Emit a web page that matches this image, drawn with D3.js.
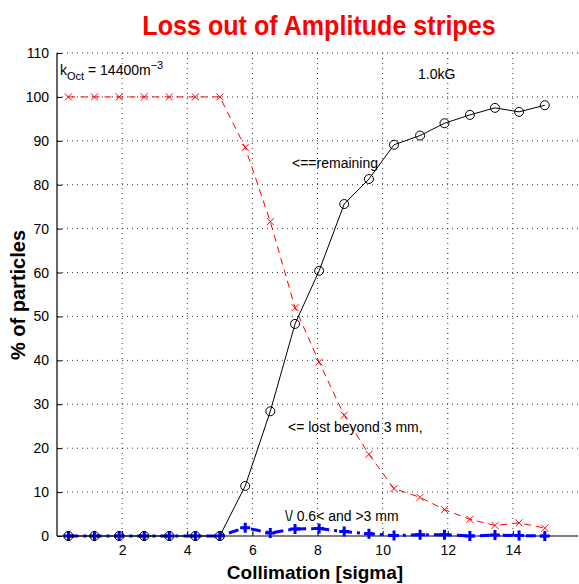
<!doctype html>
<html>
<head>
<meta charset="utf-8">
<script src="https://cdn.jsdelivr.net/npm/d3@7"></script>
<style>
  body { margin: 0; background: #fff; }
  text { font-family: "Liberation Sans", Arial, sans-serif; }
</style>
</head>
<body>
<svg id="chart" width="579" height="584"></svg>
<script>
// collimation in sigma
var sigma = [0.35, 1.15, 1.91, 2.68, 3.45, 4.25, 5.0, 5.78, 6.55, 7.31, 8.05, 8.82,
             9.58, 10.35, 11.15, 11.9, 12.68, 13.45, 14.19, 14.98];
var remaining = [0, 0, 0, 0, 0, 0, 0, 11.4, 28.4, 48.3, 60.4, 75.6, 81.3, 89.1, 91.2,
                 94.0, 95.9, 97.5, 96.6, 98.1];
var lost = [100, 100, 100, 100, 100, 100, 100, 88.5, 71.6, 52.0, 39.6, 27.5, 18.6,
            10.8, 8.8, 6.0, 3.8, 2.4, 3.0, 1.8];
var mid = [0, 0, 0, 0, 0, 0, 0, 1.9, 0.7, 1.6, 1.7, 1.0, 0.5, 0.1, 0.3, 0.3, 0, 0.2, 0.1, 0];
var xTicks = [2, 4, 6, 8, 10, 12, 14];
var yTicks = d3.range(0, 111, 10);

var svg = d3.select('#chart');
var mLeft = 57, mRight = 578, mTop = 53, mBottom = 536;
var x = d3.scaleLinear().domain([0, 16]).range([mLeft, mRight]);
var y = d3.scaleLinear().domain([0, 110]).range([mBottom, mTop]);

// dotted grid
svg.append('g').selectAll('line').data(xTicks).join('line')
  .attr('x1', d => x(d)).attr('x2', d => x(d)).attr('y1', mTop).attr('y2', mBottom)
  .attr('stroke', '#000').attr('stroke-width', 0.8).attr('stroke-dasharray', '1,4');
svg.append('g').selectAll('line').data(yTicks.slice(1)).join('line')
  .attr('x1', mLeft).attr('x2', mRight).attr('y1', d => y(d)).attr('y2', d => y(d))
  .attr('stroke', '#000').attr('stroke-width', 0.8).attr('stroke-dasharray', '1,4');

// axes
var xAxis = svg.append('g').attr('transform', 'translate(0,' + mBottom + ')')
  .call(d3.axisBottom(x).tickValues(xTicks).tickSize(-5).tickPadding(9));
var yAxis = svg.append('g').attr('transform', 'translate(' + mLeft + ',0)')
  .call(d3.axisLeft(y).tickValues(yTicks).tickSize(-5).tickPadding(8));
[xAxis, yAxis].forEach(function(a) {
  a.select('.domain').attr('stroke-width', 1.2);
  a.selectAll('text').attr('font-size', 14).attr('font-family', '"Liberation Sans", Arial, sans-serif');
});
xAxis.select('.domain').attr('d', 'M' + mLeft + ',0H' + mRight);
yAxis.select('.domain').attr('d', 'M0,' + mTop + 'V' + mBottom);

var line = d3.line().x((d, i) => x(sigma[i])).y(d => y(d));

// lost beyond 3 mm (red dashed, x markers)
svg.append('path').datum(lost).attr('d', line).attr('fill', 'none')
  .attr('stroke', '#ff0000').attr('stroke-width', 1).attr('stroke-dasharray', '7,5');
svg.append('g').selectAll('path').data(lost).join('path')
  .attr('d', (d, i) => { var cx = x(sigma[i]), cy = y(d), r = 3.5;
    return 'M' + (cx - r) + ',' + (cy - r) + 'L' + (cx + r) + ',' + (cy + r) +
           'M' + (cx - r) + ',' + (cy + r) + 'L' + (cx + r) + ',' + (cy - r); })
  .attr('stroke', '#ff0000').attr('stroke-width', 1);

// 0.6< and >3 mm (blue thick dash-dot, + markers)
svg.append('path').datum(mid).attr('d', line).attr('fill', 'none')
  .attr('stroke', '#0000ff').attr('stroke-width', 3).attr('stroke-dasharray', '10,5,3,5');
svg.append('g').selectAll('path').data(mid).join('path')
  .attr('d', (d, i) => { var cx = x(sigma[i]), cy = y(d), r = 5;
    return 'M' + (cx - r) + ',' + cy + 'L' + (cx + r) + ',' + cy +
           'M' + cx + ',' + (cy - r) + 'L' + cx + ',' + (cy + r); })
  .attr('stroke', '#0000ff').attr('stroke-width', 3);

// remaining (black solid, circles)
svg.append('path').datum(remaining).attr('d', line).attr('fill', 'none')
  .attr('stroke', '#000').attr('stroke-width', 1);
svg.append('g').selectAll('circle').data(remaining).join('circle')
  .attr('cx', (d, i) => x(sigma[i])).attr('cy', d => y(d)).attr('r', 4.5)
  .attr('fill', 'none').attr('stroke', '#000').attr('stroke-width', 1);

// annotations
svg.append('text').attr('x', 292).attr('y', 168).attr('font-size', 14).text('<==remaining');
svg.append('text').attr('x', 288).attr('y', 432).attr('font-size', 14).text('<= lost beyond 3 mm,');
svg.append('text').attr('x', 285).attr('y', 521).attr('font-size', 14).text('\\/ 0.6< and >3 mm');
svg.append('text').attr('x', 418).attr('y', 79).attr('font-size', 14).text('1.0kG');
var k = svg.append('text').attr('x', 60).attr('y', 75).attr('font-size', 14);
k.append('tspan').text('k');
k.append('tspan').attr('dy', 5).attr('font-size', 11).text('Oct');
k.append('tspan').attr('dy', -5).text(' = 14400m');
k.append('tspan').attr('dy', -6).attr('font-size', 11).text('−3');

// titles
svg.append('text').attr('x', 319).attr('y', 35).attr('text-anchor', 'middle')
  .attr('font-size', 27).attr('font-weight', 'bold').attr('fill', '#ff0000')
  .attr('transform', 'translate(319,35) scale(0.93,1) translate(-319,-35)')
  .text('Loss out of Amplitude stripes');
svg.append('text').attr('x', 315).attr('y', 579).attr('text-anchor', 'middle')
  .attr('font-size', 19).attr('font-weight', 'bold').text('Collimation [sigma]');
svg.append('text').attr('transform', 'translate(25,295) rotate(-90)').attr('text-anchor', 'middle')
  .attr('font-size', 20).attr('font-weight', 'bold').text('% of particles');
</script>
</body>
</html>
